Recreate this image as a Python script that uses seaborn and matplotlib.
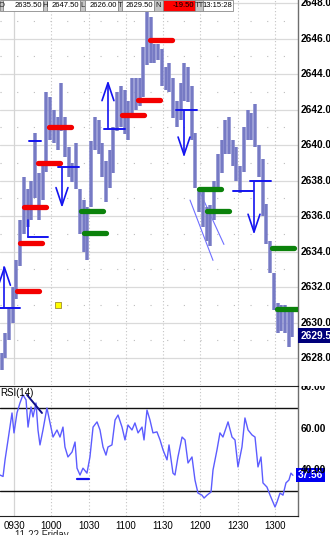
import numpy as np
import pandas as pd
import matplotlib
matplotlib.use("Agg")
import matplotlib.pyplot as plt
import seaborn as sns
from matplotlib import font_manager
from matplotlib.patches import Rectangle
from matplotlib.transforms import Bbox, TransformedBbox

# ---------------- data (x = minutes after 09:30) ----------------
bar_minutes = list(range(-10, 225, 3))          # 3-minute bars, 09:20 .. 13:14
bar_lows = [2627.3, 2628.0, 2629.0, 2630.0, 2631.3, 2633.2, 2635.0, 2635.4, 2635.8, 2637.0,
            2635.8, 2636.9, 2638.5, 2640.3, 2640.1, 2639.7, 2640.8, 2639.3, 2638.2, 2637.9,
            2637.5, 2635.0, 2634.0, 2633.5, 2636.5, 2639.7, 2639.5, 2638.2, 2636.8, 2637.6,
            2638.4, 2640.8, 2641.0, 2640.6, 2640.3, 2641.5, 2642.0, 2642.2, 2642.7, 2644.5,
            2644.6, 2644.6, 2644.8, 2643.3, 2643.1, 2643.0, 2641.5, 2641.0, 2641.4, 2642.5,
            2642.4, 2640.3, 2637.6, 2636.2, 2635.4, 2634.6, 2634.3, 2635.8, 2637.5, 2638.4,
            2639.5, 2639.5, 2638.8, 2638.0, 2637.3, 2638.5, 2640.3, 2640.3, 2639.9, 2638.2,
            2636.0, 2634.4, 2632.8, 2630.7, 2629.4, 2629.5, 2629.4, 2628.6, 2629.2]
bar_highs = [2628.3, 2629.4, 2630.9, 2632.0, 2633.5, 2635.8, 2638.2, 2637.5, 2638.0, 2640.7,
             2638.4, 2638.8, 2643.0, 2642.7, 2642.0, 2641.6, 2643.5, 2641.6, 2639.9, 2639.0,
             2640.1, 2637.5, 2636.9, 2636.5, 2640.2, 2641.6, 2641.4, 2640.1, 2639.1, 2639.7,
             2641.0, 2643.0, 2643.3, 2643.1, 2642.5, 2643.8, 2643.8, 2643.8, 2645.5, 2647.5,
             2647.2, 2645.7, 2645.7, 2645.4, 2644.4, 2644.6, 2643.8, 2642.5, 2643.5, 2644.6,
             2644.4, 2643.3, 2640.7, 2637.6, 2637.5, 2636.5, 2636.6, 2638.0, 2639.5, 2640.3,
             2641.4, 2641.6, 2640.3, 2639.9, 2638.8, 2641.0, 2642.0, 2641.8, 2642.3, 2640.0,
             2639.2, 2636.7, 2634.6, 2632.8, 2631.1, 2631.0, 2631.0, 2630.7, 2630.6]
last_price = 2629.50

rsi_minutes = [-11.3, -8.8, -7.2, -4.8, -1.6, 0.0, 2.4, 4.8, 7.2, 9.7,
               11.3, 13.7, 15.3, 17.7, 19.3, 20.9, 23.3, 26.5, 29.0, 31.4,
               34.6, 37.0, 39.4, 41.0, 43.4, 46.7, 49.1, 50.7, 53.1, 55.5,
               58.7, 61.1, 63.6, 66.8, 69.2, 71.6, 74.0, 75.6, 78.8, 81.3,
               83.7, 86.9, 89.3, 91.7, 94.9, 97.3, 99.8, 103.0, 104.6, 107.0,
               109.4, 111.8, 115.0, 117.5, 119.9, 123.1, 124.7, 127.9, 129.5, 131.9,
               135.2, 137.6, 140.0, 143.2, 145.6, 148.0, 151.2, 152.9, 155.3, 158.5,
               160.1, 163.3, 165.7, 168.1, 172.2, 175.4, 177.8, 180.2, 183.4, 185.8,
               188.3, 191.5, 193.9, 196.3, 198.7, 200.3, 203.5, 206.0, 207.6, 210.0,
               211.6, 214.0, 216.4, 218.8, 221.2, 222.8, 224.4]
rsi_values = [37.7, 37.0, 45.0, 54.6, 67.6, 58.0, 67.6, 72.4, 76.3, 73.9,
              60.8, 70.5, 65.7, 72.4, 59.4, 52.2, 59.4, 70.0, 62.8, 56.0,
              59.4, 56.0, 60.8, 51.2, 46.4, 48.8, 53.6, 41.0, 37.7, 41.0,
              38.6, 46.4, 60.8, 63.3, 59.4, 51.2, 47.3, 51.2, 52.2, 64.2,
              66.6, 60.8, 54.6, 61.8, 59.4, 62.8, 58.0, 60.8, 54.6, 69.0,
              64.2, 58.0, 58.5, 54.6, 49.8, 45.0, 52.2, 38.6, 37.7, 46.4,
              56.0, 54.6, 43.5, 46.4, 35.3, 29.0, 28.0, 26.6, 28.0, 29.5,
              40.1, 49.8, 58.0, 56.0, 63.3, 56.0, 54.6, 41.6, 51.2, 65.2,
              59.4, 57.0, 56.0, 41.6, 46.4, 33.9, 31.9, 28.0, 25.7, 22.3,
              24.7, 29.0, 28.0, 33.9, 35.3, 38.6, 37.56]
last_rsi = 37.56

time_ticks = [0, 30, 60, 90, 120, 150, 180, 210]
time_labels = ["0930", "1000", "1030", "1100", "1130", "1200", "1230", "1300"]
price_ticks = [2628, 2630, 2632, 2634, 2636, 2638, 2640, 2642, 2644, 2646, 2648]
rsi_ticks = [80, 60, 40]
rsi_bands = [70, 30]

# horizontal level markers (start minute, price)
red_starts = [2.4, 4.8, 8.0, 19.3, 28.2, 86.9, 99.8, 109.4]
red_levels = [2631.75, 2634.5, 2636.5, 2639.0, 2641.0, 2641.7, 2642.55, 2645.9]
green_starts = [53.9, 56.3, 148.8, 155.3, 207.6, 211.6]
green_levels = [2636.3, 2635.05, 2637.5, 2636.3, 2634.2, 2630.75]
level_span = 18

# blue signal lines: (start, end, price)
signal_lines = [(-11.3, 4.8, 2630.8), (12.1, 21.7, 2640.2), (11.3, 27.4, 2634.8),
                (35.4, 52.3, 2638.75), (72.4, 89.3, 2640.9), (130.3, 147.2, 2642.0),
                (176.2, 192.3, 2637.4), (189.9, 206.8, 2638.0)]
signal_verticals = [(11.3, 2634.8, 2635.8)]
# arrows: (minute, base price, tip price)
arrows = [(-7.7, 2630.8, 2633.1), (38.6, 2638.75, 2636.6), (75.6, 2640.9, 2643.5),
          (136.8, 2642.0, 2639.45), (193.1, 2637.9, 2635.1)]
trend_lines = [(141.6, 2636.9, 160.1, 2633.5), (149.6, 2637.35, 168.9, 2634.4)]
marker_square = (35.4, 2631.0)
rsi_trend = [(10.5, 76.3), (22.5, 67.6)]
rsi_support = (50.7, 60.3, 35.8)

info_labels = ["O", "H", "L", "T", "N", "TT"]
info_values = ["2635.50", "2647.50", "2626.00", "2629.50", "-19.50", "13:15:28"]

# ---------------- style ----------------
sns.set_style("white")
names = {f.name for f in font_manager.fontManager.ttflist}
base_font = "Liberation Sans" if "Liberation Sans" in names else "DejaVu Sans"
narrow = "Liberation Sans Narrow" if "Liberation Sans Narrow" in names else base_font
has_narrow = narrow == "Liberation Sans Narrow"
plt.rcParams["font.family"] = [base_font, "DejaVu Sans"]

W, H = 330, 535
fig = plt.figure(figsize=(W / 100, H / 100), dpi=100)
fig.patch.set_facecolor("white")

XMIN, XMAX = -11.26, 228.48
ax = fig.add_axes([0, 150 / H, 298 / W, 385 / H])
rax = fig.add_axes([0, 19 / H, 298 / W, 130 / H])
ax.set_xlim(XMIN, XMAX)
ax.set_ylim(2626.48, 2648.17)
rax.set_xlim(XMIN, XMAX)
rax.set_ylim(17.95, 80.6)

for a in (ax, rax):
    a.set_facecolor("white")
    for s in a.spines.values():
        s.set_visible(False)
    a.spines["right"].set_visible(True)
    a.spines["right"].set_color("#6e6e6e")
    a.spines["right"].set_linewidth(1.0)
    a.set_yticks([])
rax.spines["top"].set_visible(True)
rax.spines["bottom"].set_visible(True)
rax.spines["top"].set_color("#222222")
rax.spines["bottom"].set_color("#222222")
ax.set_xticks([])

# grid
for p in price_ticks:
    ax.axhline(p, color="#dadada", lw=0.9, zorder=0)
    ax.axhline(p + 1, color="#bdbdbd", lw=0.8, ls=(0, (1, 14)), zorder=0)
for t in time_ticks:
    for a in (ax, rax):
        if t == 0:
            a.axvline(t, color="#d4d4d4", lw=0.9, zorder=0)
        else:
            a.axvline(t, color="#c4c4c4", lw=0.8, ls=(0, (1, 2)), zorder=0)

# trend lines (under bars)
for x0, y0, x1, y1 in trend_lines:
    ax.plot([x0, x1], [y0, y1], color="#6f6fff", lw=0.8, zorder=2)

# price bars
ax.vlines(bar_minutes, bar_lows, bar_highs, color="#8588cd", lw=2.6, zorder=3)
ax.vlines(bar_minutes, bar_lows, bar_highs, color="#4b4fa9", lw=0.35, zorder=4)

# level markers
for s, p in zip(red_starts, red_levels):
    ax.plot([s, s + level_span], [p, p], color="#f40000", lw=3.8,
            solid_capstyle="round", zorder=5)
for s, p in zip(green_starts, green_levels):
    ax.plot([s, s + level_span], [p, p], color="#0b820b", lw=3.8,
            solid_capstyle="round", zorder=5)

blue = "#1414f0"
for x0, x1, p in signal_lines:
    ax.plot([x0, x1], [p, p], color=blue, lw=1.4, zorder=6)
for x, y0, y1 in signal_verticals:
    ax.plot([x, x], [y0, y1], color=blue, lw=1.2, zorder=6)
hw, hh = 4.8, 1.0
for x, base, tip in arrows:
    d = 1 if tip > base else -1
    ax.plot([x, x], [base, tip], color=blue, lw=1.2, zorder=6)
    ax.plot([x - hw, x, x + hw], [tip - d * hh, tip, tip - d * hh], color=blue,
            lw=1.2, zorder=6)

ax.scatter([marker_square[0]], [marker_square[1]], marker="s", s=22,
           color="#ffff00", edgecolor="#a08c30", linewidth=0.6, zorder=6)

# right price labels
lab_font = narrow if has_narrow else base_font
lab_size = 8.4 if has_narrow else 7.3
ytr = ax.get_yaxis_transform()
for p in price_ticks:
    ax.text(1.0 + 3 / 298, p, f"{p:.2f}", transform=ytr, ha="left", va="center",
            fontsize=lab_size, fontweight="bold", family=lab_font, color="black",
            clip_on=False)
ax.annotate(f"{last_price:.2f}", xy=(1.0, last_price), xycoords=ytr,
            xytext=(2, -3), textcoords="offset points", ha="left", va="center",
            fontsize=lab_size, fontweight="bold", family=lab_font, color="white",
            bbox=dict(boxstyle="square,pad=0.25", fc="#00007a", ec="none"),
            annotation_clip=False, zorder=10)

# RSI panel
df_rsi = pd.DataFrame({"minute": rsi_minutes, "rsi": rsi_values})
sns.lineplot(data=df_rsi, x="minute", y="rsi", ax=rax, color="#5c5cff", lw=1.0,
             estimator=None, sort=False, zorder=3)
rax.set_xlabel("")
rax.set_ylabel("")
for v in rsi_bands:
    rax.axhline(v, color="#111111", lw=1.0, zorder=2)
rax.plot([rsi_trend[0][0], rsi_trend[1][0]], [rsi_trend[0][1], rsi_trend[1][1]],
         color="#10108a", lw=1.4, zorder=4)
rax.plot([rsi_support[0], rsi_support[1]], [rsi_support[2], rsi_support[2]],
         color=blue, lw=1.6, zorder=4)

rytr = rax.get_yaxis_transform()
clipbox = TransformedBbox(Bbox([[0.0, 0.0], [1.2, 1.0]]), rax.transAxes)
for v in rsi_ticks:
    t = fig.text(1.0 + 3 / 298, v, f"{v:.2f}", transform=rytr, ha="left", va="center",
                 fontsize=lab_size, fontweight="bold", family=lab_font, color="black")
    t.set_clip_box(clipbox)
    t.set_clip_on(True)
rax.text(1.0, last_rsi, f"{last_rsi:.2f}", transform=rytr, ha="left", va="center",
         fontsize=lab_size, fontweight="bold", family=lab_font, color="white",
         bbox=dict(boxstyle="square,pad=0.2", fc="#0000f0", ec="none"),
         clip_on=False, zorder=10)
rax.text(0.0, 0.985, "RSI(14)", transform=rax.transAxes, ha="left", va="top",
         fontsize=7, color="black", zorder=6)

rax.set_xticks(time_ticks)
rax.set_xticklabels(time_labels, fontsize=7)
rax.tick_params(axis="x", length=0, pad=3.5, colors="black")
fig.text(15 / W, 1 - 530 / H, "11-22 Friday", ha="left", va="top", fontsize=7)

# top info bar
cells = [(0, 3, "lab"), (3, 43, "val"), (43, 47, "lab"), (47, 80, "val"),
         (80, 85, "lab"), (85, 118, "val"), (118, 122, "lab"), (122, 154, "val"),
         (154, 163, "lab"), (163, 195, "red"), (195, 203, "lab"), (203, 233, "val")]
labels_iter = iter(info_labels)
values_iter = iter(info_values)
bar_h = 11
info_font = narrow if has_narrow else base_font
info_size = 7.2 if has_narrow else 5.5
for x0, x1, kind in cells:
    txt = next(labels_iter) if kind == "lab" else next(values_iter)
    fc = {"lab": "#c6c6c6", "val": "white", "red": "#ff0000"}[kind]
    fig.add_artist(Rectangle((x0 / W, 1 - bar_h / H), (x1 - x0) / W, bar_h / H,
                             transform=fig.transFigure, fc=fc, ec="#8a8a8a", lw=0.6,
                             zorder=20))
    if kind == "lab":
        fig.text((x0 + x1) / 2 / W, 1 - 5.5 / H, txt, ha="center", va="center",
                 fontsize=info_size, family=info_font, color="#222222", zorder=21)
    else:
        fig.text((x1 - 1) / W, 1 - 5.5 / H, txt, ha="right", va="center",
                 fontsize=info_size, family=info_font, color="black", zorder=21)

fig.savefig("out.png", dpi=100, facecolor="white")
